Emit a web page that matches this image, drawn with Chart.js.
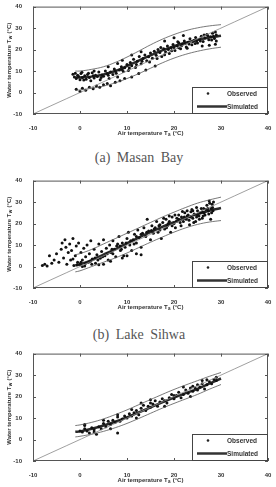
<!DOCTYPE html>
<html><head><meta charset="utf-8">
<script src="https://cdn.jsdelivr.net/npm/chart.js@4"></script>
<style>
body{margin:0;width:276px;height:487px;overflow:hidden;background:#fff;position:relative}
canvas{position:absolute;left:0}
.cap{position:absolute;left:0;width:278px;text-align:center;font-family:"Liberation Serif","DejaVu Serif",serif;font-size:14px;color:#555;word-spacing:3px;line-height:16px}
</style></head><body>
<canvas id="cA" width="276" height="145" style="top:0"></canvas>
<div class="cap" style="top:150px">(a) Masan Bay</div>
<canvas id="cB" width="276" height="145" style="top:174px"></canvas>
<div class="cap" style="top:327px">(b) Lake Sihwa</div>
<canvas id="cC" width="276" height="145" style="top:347px"></canvas>
<script>
/* ---- data ---- */
const axisTicks = [-10, 0, 10, 20, 30, 40];
const xTitle = 'Air temperature T', xSub = 'a';
const yTitle = 'Water temperature T', ySub = 'w';
const legendLabels = ['Observed', 'Simulated'];

const simX = [-1, 0, 2.5, 5, 7.5, 10, 12.5, 15, 17.5, 20, 22.5, 25, 27.5, 30];

// (a) Masan Bay
const masanSim = [7, 7, 7.4, 8.4, 10, 12.3, 14.8, 17.3, 19.6, 21.6, 23.2, 24.5, 25.6, 26.4];
const masanUp  = [10, 10, 10.8, 12, 14, 16.5, 19.3, 22.2, 24.8, 27, 28.8, 30.1, 31, 31.6];
const masanLo  = [1, 1.2, 2, 3, 4.5, 6.5, 8.8, 11.3, 13.8, 16, 17.8, 19.2, 20.3, 21.1];
const masanObs = [
 [-1.5,8.5],[-1.2,7.2],[-1,9],[-0.8,6.5],[-0.5,8],[-0.3,7.5],[0,6],[0.2,8.8],[0.5,7],[0.8,5.8],
 [1,7.8],[1.3,6.2],[1.6,8.4],[2,7],[2.3,5.5],[2.6,9.2],[3,6.8],[3.3,8],[3.7,7.4],[4,9.5],
 [4.3,6],[4.7,8.2],[5,7.6],[5.4,10],[5.8,8.8],[6.2,6.5],[6.5,9.6],[7,8.4],[7.3,11],[7.7,9],
 [8,7.2],[8.4,10.5],[8.8,12],[9.2,9.8],[9.5,11.5],[10,13],[10.3,10.2],[10.7,14],[11,12.5],[11.4,15.5],
 [11.8,11.6],[12.2,14.6],[12.6,16.8],[13,13.4],[13.4,15.8],[13.8,17.5],[14.2,14.8],[14.6,16.6],[15,18.4],[15.4,16],
 [15.8,19.2],[16.2,17.4],[16.6,20],[17,18.6],[17.4,16.8],[17.8,20.4],[18.2,19],[18.6,21.6],[19,18.2],[19.4,20.8],
 [19.8,22.4],[20.2,19.6],[20.6,21.8],[21,23.2],[21.4,20.4],[21.8,22.6],[22.2,24],[22.6,21.2],[23,23.4],[23.4,25],
 [23.8,22.2],[24.2,24.2],[24.6,25.6],[25,23],[25.4,24.8],[25.8,26.2],[26.2,23.8],[26.6,25.4],[27,27],[27.4,24.6],
 [27.8,26],[28.2,27.6],[28.6,25.2],[29,26.8],[28.8,22.5],[27.5,22],[26,21.6],[24.5,22.8],[22.8,20.6],[21,20.8],
 [19.5,19.4],[18,17.6],[16.4,15.8],[14.8,14.2],[20.8,23.6],[22.4,22.8],[24,23.8],[25.6,24],[27.2,26.4],[28.4,26.2],
 [17.2,21],[18.8,20],[20,21],[21.6,21.8],[23.2,22.6],[24.8,24],[26.4,26.8],[28,24.4],[29,24],[28.8,28.2],
 [1.8,9],[0.4,9.4],[2.8,7.8],[4.5,7],[6,8],[7.5,10],[9,10.6],[10.5,11.4],[12,13],[13.2,14.6],
 [-0.8,1.5],[0,0.5],[0.5,2],[1.2,1],[2,2.5],[2.8,1.8],[3.5,3],[4.2,2.4],[5,3.6],[5.8,4.2],
 [6.5,3.2],[7.5,4.8],[8.5,5.5],[9.5,6.5],[11,7.2],[12.5,8.8],[14,10.5],[16,12.4],
 [3,10],[6,12],[8,13.5],[9,15],[11,17.5],[13,19],[18,24],[20,25.5],[22,26.5]
];

// (b) Lake Sihwa
const sihwaSim = [0.5, 1, 3, 5.5, 8, 10.8, 13.5, 16, 18.5, 20.6, 22.6, 24.4, 26, 27.2];
const sihwaUp  = [5.5, 6, 8, 10.5, 13, 15.5, 18, 20.5, 23, 25.3, 27.5, 29.5, 31, 32.3];
const sihwaLo  = [-2.5, -2, 0, 2, 4, 6.3, 8.8, 11.3, 13.7, 16, 18, 19.6, 20.7, 21.4];
const sihwaObs = [
 [-8,0.5],[-7.5,1],[-7,0.2],[-6.5,5],[-6,1.5],[-5.5,3],[-5,6],[-4.5,2],[-4,8],[-3.8,11],
 [-3.5,4],[-3.2,12.5],[-3,9],[-2.8,1],[-2.5,6.5],[-2.2,10.5],[-2,3],[-1.8,7.5],[-1.5,13],[-1.3,0.5],
 [-1,5],[-0.8,9.5],[-0.5,2],[-0.3,11],[0,1],[0.2,6.5],[0.5,3],[0.8,8.5],[1,0.2],[1.2,4.5],
 [1.5,10],[1.8,2],[2,6],[2.3,12],[2.6,3.5],[3,8],[3.3,1.5],[3.6,5.5],[4,10.5],[4.3,3.8],
 [4.6,7],[5,12.5],[5.3,5],[5.6,8.5],[6,3],[6.3,10],[6.6,6.5],[7,12],[7.3,8],[7.6,4.5],
 [8,10.5],[8.3,14],[8.6,7.5],[9,11],[9.3,5],[9.6,9],[10,13],[10.3,16],[10.6,10],[11,7.5],
 [11.3,12.5],[11.6,15],[12,11],[12.3,17],[12.6,13.5],[13,9],[13.3,15.5],[13.6,18],[14,14],[14.3,22],
 [14.6,16.5],[15,12.5],[15.3,19],[15.6,15.5],[16,18],[16.3,21],[16.6,16],[17,19.5],[17.3,13],[17.6,20.5],
 [18,17.5],[18.3,22],[18.6,19],[19,21],[19.3,16],[19.6,23],[20,20],[20.3,18],[20.6,22.5],[21,24],
 [21.3,20.5],[21.6,23],[22,21],[22.3,25],[22.6,22],[23,24],[23.3,19.5],[23.6,25.5],[24,22.5],[24.3,24.5],
 [24.6,21],[25,26],[25.3,23.5],[25.6,25],[26,22.5],[26.3,27],[26.6,24],[27,28.5],[27.3,26],[27.6,29.5],
 [28,25],[28.2,27.5],[28.4,30],[27.8,22],[9,4],[10,5],[12,6],[13,5.5],[5,1],[6.5,2.5],
 [-1.5,3.5],[0.5,0],[2.5,1],[4,0.8],[19,23.5],[20.5,21],[21.8,25.6],[22.8,23.5],[23.8,26.5],[25,24],
 [26,25.5],[27.2,27],[24.8,27.5],[18.8,20],[17,17],[15.8,17.5],[11.5,10.5],[8.5,9.5],[7,6],[3.8,3],
 [20.2,24],[21,22],[21.5,19],[22.2,23],[22.8,26],[23.2,21.5],[23.5,23],[24,26],[24.2,20.5],[24.8,23],
 [25.4,22],[26.4,25],[26.8,26.5],[27.4,24.5],[27.9,27],[28.1,29],[28.3,26],[27.5,30.5],[26.2,23.5],[25.8,27],
 [19.6,19],[18.4,18],[17.8,22.5],[16.8,19],[15.2,16.8],[14.2,16],[13,15],[12,14],[10.8,12],[9.8,11],
 [8.8,8],[7.8,9.5],[6.8,8],[5.8,6],[4.8,4.5],[3.2,4],[2.2,2.5],[1.2,1.5],[0.2,2],[-0.6,0.8]
];

// (c)
const thirdSim = [3.6, 3.8, 5, 6.5, 8.3, 10.3, 12.6, 15, 17.3, 19.5, 21.6, 23.6, 26, 28.4];
const thirdUp  = [6.5, 6.8, 8, 9.6, 11.6, 13.8, 16.2, 18.6, 21, 23.3, 25.4, 27.4, 29.4, 31.2];
const thirdLo  = [1.2, 1.5, 2.5, 3.8, 5.5, 7.5, 9.8, 12.2, 14.6, 16.8, 18.9, 21, 23.4, 25.6];
const thirdObs = [
 [0,4],[0.5,3.5],[1,5],[1,6.5],[1.5,4],[2,3],[2.5,5.5],[3,4.5],[3.5,2.5],[4,6],
 [4.5,5],[5,7.5],[5.5,6],[6,8.5],[6.5,7],[7,9],[7.5,8],[8,3],[8,10.5],[8.5,8.5],
 [9,9.5],[9.5,11],[10,10],[10.5,12],[11,11],[11,14],[11.5,12.5],[12,13.5],[12.5,11.5],[13,14.5],
 [13.5,16],[14,13.5],[14.5,15.5],[15,17],[15,15],[15.5,16.5],[16,18],[16.5,15.5],[17,17.5],[17.5,19],
 [18,18],[18.5,17],[19,19.5],[19.5,21],[20,19],[20.5,20.5],[21,22],[21.5,19.5],[22,21],[22.5,23],
 [23,21.5],[23.5,24],[24,22.5],[24.5,24],[25,23],[25,25.5],[25.5,24.5],[26,26],[26.5,23.5],[27,25.5],
 [27.5,27],[28,26],[28.5,28],[29,27.5],[29,29],[23.5,20],[18,15.5],[6.5,5],[3,3.5],[12,10],
 [5,9],[8,11.5],[13,17],[15,18.5],[22,24.5],[26,27.5],[1,7],[20,20.5],[24,24.8],[27,27.8]
];

/* ---- frame, inward ticks, titles, legend ---- */
function subText(ctx, parts, cx, cy){
  // parts: [text, sub, tail]
  const big = 'bold 6px "Liberation Sans", Arial', small = 'bold 4.5px "Liberation Sans", Arial';
  ctx.font = big; const w1 = ctx.measureText(parts[0]).width, w3 = ctx.measureText(parts[2]).width;
  ctx.font = small; const w2 = ctx.measureText(parts[1]).width;
  let x = cx - (w1 + w2 + w3 + 1) / 2;
  ctx.textBaseline = 'middle'; ctx.textAlign = 'left';
  ctx.font = big; ctx.fillText(parts[0], x, cy); x += w1 + 0.5;
  ctx.font = small; ctx.fillText(parts[1], x, cy + 1.8); x += w2 + 0.5;
  ctx.font = big; ctx.fillText(parts[2], x, cy);
}

const framePlugin = {
  id: 'frame',
  afterDatasetsDraw(chart){
    const {ctx, chartArea: a, scales: {x, y}} = chart;
    ctx.save();
    ctx.strokeStyle = '#555'; ctx.lineWidth = 1;
    ctx.strokeRect(a.left + 0.5, a.top + 0.5, a.right - a.left - 1, a.bottom - a.top - 1);
    ctx.beginPath();
    x.ticks.forEach(t => {
      const px = Math.round(x.getPixelForValue(t.value)) + 0.5;
      ctx.moveTo(px, a.bottom); ctx.lineTo(px, a.bottom - 3);
      ctx.moveTo(px, a.top); ctx.lineTo(px, a.top + 3);
    });
    y.ticks.forEach(t => {
      const py = Math.round(y.getPixelForValue(t.value)) + 0.5;
      ctx.moveTo(a.left, py); ctx.lineTo(a.left + 3, py);
      ctx.moveTo(a.right, py); ctx.lineTo(a.right - 3, py);
    });
    ctx.stroke();

    // legend box in lower right corner
    const bw = 76, bh = 27, bx = a.right - bw, by = a.bottom - bh;
    ctx.fillStyle = '#fff'; ctx.fillRect(bx, by, bw, bh);
    ctx.strokeStyle = '#444'; ctx.strokeRect(bx + 0.5, by + 0.5, bw - 1, bh - 1);
    ctx.fillStyle = '#222';
    ctx.beginPath(); ctx.arc(bx + 16, by + 6.5, 1.3, 0, Math.PI * 2); ctx.fill();
    ctx.strokeStyle = '#333'; ctx.lineWidth = 2.5;
    ctx.beginPath(); ctx.moveTo(bx + 5, by + 19.5); ctx.lineTo(bx + 35, by + 19.5); ctx.stroke();
    ctx.font = 'bold 6.5px "Liberation Sans", Arial'; ctx.textBaseline = 'middle'; ctx.textAlign = 'left';
    ctx.fillStyle = '#333';
    ctx.fillText(legendLabels[0], bx + 35, by + 7);
    ctx.fillText(legendLabels[1], bx + 35, by + 20);

    // axis titles
    ctx.fillStyle = '#333';
    subText(ctx, [xTitle, xSub, ' (\u00b0C)'], (a.left + a.right) / 2, a.bottom + 19);
    ctx.translate(9, (a.top + a.bottom) / 2); ctx.rotate(-Math.PI / 2);
    subText(ctx, [yTitle, ySub, ' (\u00b0C)'], 0, 0);
    ctx.restore();
  }
};

function pts(xs, ys){ return xs.map((v, i) => ({x: v, y: ys[i]})); }

function makeChart(id, obs, sim, up, lo){
  const lineDs = (data, w, c) => ({type: 'line', data, borderColor: c, borderWidth: w,
    pointRadius: 0, tension: 0.4, fill: false});
  const tickFont = {size: 6, weight: 'bold', family: '"Liberation Sans", Arial'};
  return new Chart(document.getElementById(id), {
    type: 'scatter',
    data: {datasets: [
      lineDs([{x: axisTicks[0], y: axisTicks[0]}, {x: axisTicks[5], y: axisTicks[5]}], 0.8, '#888'),
      lineDs(pts(simX, up), 0.8, '#555'),
      lineDs(pts(simX, lo), 0.8, '#555'),
      {label: legendLabels[0], data: obs.map(p => ({x: p[0], y: p[1]})),
       pointRadius: 1.5, pointBackgroundColor: '#111', pointBorderWidth: 0, pointBorderColor: '#111'},
      lineDs(pts(simX, sim), 2.5, '#2a2a2a')
    ]},
    options: {
      responsive: false, animation: false, devicePixelRatio: 1,
      layout: {padding: {top: 6, right: 8, left: 0, bottom: 0}},
      plugins: {legend: {display: false}, tooltip: {enabled: false}},
      scales: {
        x: {type: 'linear', min: axisTicks[0], max: axisTicks[5],
          grid: {display: false}, border: {display: false},
          ticks: {stepSize: 10, font: tickFont, color: '#333', padding: 3, maxRotation: 0},
          afterFit: s => { s.height = 31; }},
        y: {type: 'linear', min: axisTicks[0], max: axisTicks[5],
          grid: {display: false}, border: {display: false},
          ticks: {stepSize: 10, font: tickFont, color: '#333', padding: 3},
          afterFit: s => { s.width = 33; }}
      }
    },
    plugins: [framePlugin]
  });
}

makeChart('cA', masanObs, masanSim, masanUp, masanLo);
makeChart('cB', sihwaObs, sihwaSim, sihwaUp, sihwaLo);
makeChart('cC', thirdObs, thirdSim, thirdUp, thirdLo);
</script>
</body></html>
